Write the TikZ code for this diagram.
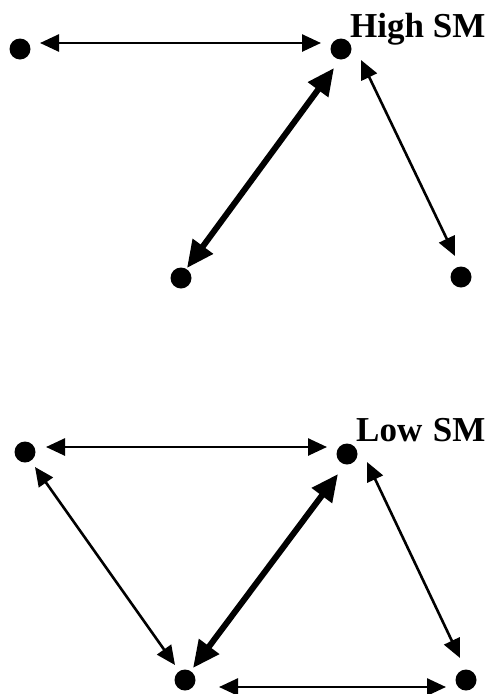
\documentclass[tikz,border=0pt]{standalone}
\usepackage{fontspec}
\setmainfont{Liberation Serif}
\usetikzlibrary{arrows.meta,calc}
\tikzset{
  dot/.style={circle,fill=black,inner sep=0pt,minimum size=21pt},
  tie/.style={line width=2.6pt,{Triangle[length=19pt,width=17pt]}-{Triangle[length=19pt,width=17pt]}},
  strongtie/.style={line width=6pt,{Triangle[length=27pt,width=24pt]}-{Triangle[length=27pt,width=24pt]}},
  tag/.style={font=\fontsize{35}{35}\selectfont\bfseries,anchor=base west,inner sep=0pt}
}
\begin{document}
\begin{tikzpicture}[x=1pt,y=-1pt]
\useasboundingbox (0,0) rectangle (488,694);
% upper network
\node[dot] (A) at (20,49) {};
\node[dot] (B) at (341,49) {};
\node[dot] (C) at (181,278) {};
\node[dot] (D) at (461,277) {};
\node[tag] (hi) at (350,37) {High SM};
\draw[tie] ($(A)+(20,-6)$) -- ($(B)+(-20,-6)$);
\draw[strongtie] ($(B)+(-7,19)$) -- ($(C)+(6,-10)$);
\draw[tie] ($(B)+(20,11)$) -- ($(D)+(-6,-21)$);
% lower network
\node[dot] (E) at (25,452) {};
\node[dot] (F) at (347,454) {};
\node[dot] (G) at (185,680) {};
\node[dot] (H) at (466,680) {};
\node[tag] (lo) at (356,441) {Low\hspace{0.3em}SM};
\draw[tie] ($(E)+(21,-5)$) -- ($(F)+(-20,-7)$);
\draw[tie] ($(E)+(10,15)$) -- ($(G)+(-10,-15)$);
\draw[strongtie] ($(F)+(-9,20)$) -- ($(G)+(8,-12)$);
\draw[tie] ($(F)+(20,8)$) -- ($(H)+(-6,-22)$);
\draw[tie] ($(G)+(34,7)$) -- ($(H)+(-20,7)$);
\end{tikzpicture}
\end{document}
